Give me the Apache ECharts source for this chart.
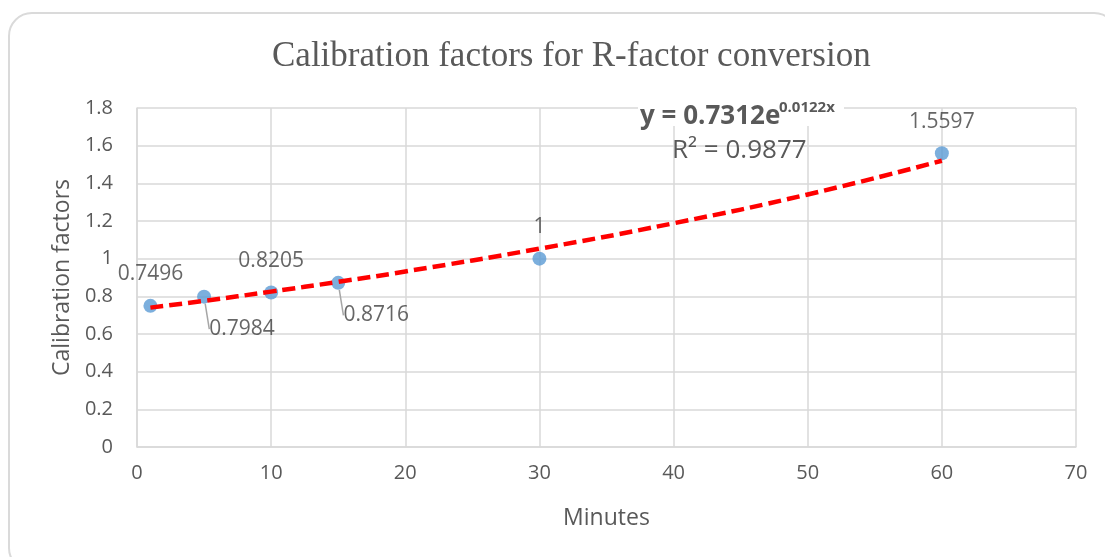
<!DOCTYPE html>
<html>
<head>
<meta charset="utf-8">
<script src="https://cdn.jsdelivr.net/npm/echarts@6/dist/echarts.min.js"></script>
<style>
  html, body { margin: 0; padding: 0; background: #fff; overflow: hidden; }
  .card {
    position: absolute; left: 8px; top: 12px; width: 1110px; height: 560px;
    border: 2px solid #dadada; border-radius: 24px; box-sizing: border-box;
  }
  #chart { position: absolute; left: 0; top: 0; width: 1105px; height: 557px; }
</style>
</head>
<body>
<div class="card"></div>
<div id="chart"></div>
<script>
// measured points
const minutes = [1, 5, 10, 15, 30, 60]
const factors = [0.7496, 0.7984, 0.8205, 0.8716, 1, 1.5597]

// exponential trendline, values
const trendX = [1, 5, 10, 15, 20, 30, 40, 50, 60]
const trendY = [0.740, 0.776, 0.825, 0.877, 0.932, 1.053, 1.188, 1.341, 1.520]

const xTicks = [0, 10, 20, 30, 40, 50, 60, 70]
const yTicks = [0, 0.2, 0.4, 0.6, 0.8, 1, 1.2, 1.4, 1.6, 1.8]

const equationText = 'y = 0.7312e'
const equationExp = '0.0122x'
const r2Text = 'R² = 0.9877'

// labels pushed below-right, with a leader line back to the point
const movedLabels = { 1: [38, 64], 3: [38, 64] }

const gridColor = '#d9d9d9'
const textColor = '#595959'
const labelColor = '#404040'
const font = '"Open Sans", sans-serif'

const chart = echarts.init(document.getElementById('chart'))

chart.setOption({
  animation: false,
  backgroundColor: 'transparent',
  title: {
    text: 'Calibration factors for R-factor conversion',
    left: 267,
    top: 34,
    textStyle: {
      fontFamily: '"Liberation Serif", serif',
      fontSize: 35,
      fontWeight: 'normal',
      color: textColor,
    },
  },
  grid: { left: 137, right: 29, top: 108, bottom: 110 },
  xAxis: {
    type: 'value',
    min: xTicks[0],
    max: xTicks[xTicks.length - 1],
    interval: 10,
    name: 'Minutes',
    nameLocation: 'middle',
    nameGap: 60,
    nameTextStyle: { fontFamily: font, fontSize: 23, color: textColor },
    axisLine: { lineStyle: { color: gridColor, width: 1.5 } },
    axisTick: { show: false },
    axisLabel: { fontFamily: font, fontSize: 20, color: textColor, margin: 16 },
    splitLine: { lineStyle: { color: gridColor, width: 1.5 } },
  },
  yAxis: {
    type: 'value',
    min: yTicks[0],
    max: yTicks[yTicks.length - 1],
    interval: 0.2,
    name: 'Calibration factors',
    nameLocation: 'middle',
    nameGap: 60,
    nameTextStyle: { fontFamily: font, fontSize: 23, color: textColor },
    axisLine: { show: true, lineStyle: { color: gridColor, width: 1.5 } },
    axisTick: { show: false },
    axisLabel: { fontFamily: font, fontSize: 20, color: textColor, margin: 24 },
    splitLine: { lineStyle: { color: gridColor, width: 1.5 } },
  },
  series: [
    {
      name: 'Trend',
      type: 'line',
      smooth: true,
      symbol: 'none',
      z: 3,
      data: trendX.map((x, i) => [x, trendY[i]]),
      lineStyle: { color: '#ff0000', width: 4.5, type: [13, 6] },
    },
    {
      name: 'Calibration factors',
      type: 'scatter',
      symbolSize: 14,
      z: 2,
      itemStyle: { color: '#5b9bd5' },
      data: minutes.map((x, i) => ({
        value: [x, factors[i]],
        labelLine: { show: !!movedLabels[i] },
      })),
      label: {
        show: true,
        position: 'top',
        distance: 14,
        fontFamily: font,
        fontSize: 21,
        color: labelColor,
        formatter: (p) => String(p.value[1]),
      },
      labelLine: { show: false, length2: 0, lineStyle: { color: '#a6a6a6', width: 1.5 } },
      labelLayout: (p) => {
        const m = movedLabels[p.dataIndex]
        if (!m) return {}
        return { dx: m[0], dy: m[1] }
      },
    },
  ],
  graphic: [
    {
      type: 'rect',
      z: 100,
      shape: { x: 638, y: 102, width: 206, height: 24 },
      style: { fill: '#fff' },
    },
    {
      type: 'text',
      z: 101,
      x: 640,
      y: 104,
      style: {
        text: equationText,
        fontFamily: font,
        fontSize: 26,
        fontWeight: 'bold',
        fill: textColor,
      },
    },
    {
      type: 'text',
      z: 101,
      x: 779,
      y: 100,
      style: {
        text: equationExp,
        fontFamily: font,
        fontSize: 15,
        fontWeight: 'bold',
        fill: textColor,
      },
    },
    {
      type: 'text',
      z: 101,
      x: 672,
      y: 138,
      style: { text: r2Text, fontFamily: font, fontSize: 26, fill: textColor },
    },
  ],
})
</script>
</body>
</html>
